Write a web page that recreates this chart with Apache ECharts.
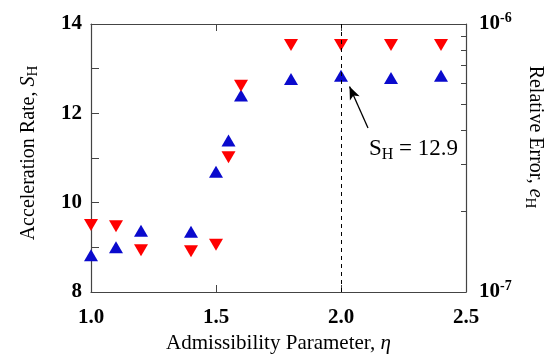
<!DOCTYPE html>
<html>
<head>
<meta charset="utf-8">
<script src="https://cdn.jsdelivr.net/npm/echarts@6/dist/echarts.min.js"></script>
<style>
  html, body { margin: 0; padding: 0; background: #fff; }
  #chart { width: 547px; height: 354px; }
</style>
</head>
<body>
<div id="chart"></div>
<script>
// admissibility parameter eta
var etaValues = [1.0, 1.1, 1.2, 1.4, 1.5, 1.55, 1.6, 1.8, 2.0, 2.2, 2.4];
// acceleration rate S_H (left axis, blue up-triangles)
var accelRate = [8.82, 9.0, 9.37, 9.35, 10.69, 11.39, 12.4, 12.77, 12.84, 12.79, 12.84];
// relative error e_H (right log axis, red down-triangles)
var relError = [1.78e-7, 1.76e-7, 1.43e-7, 1.42e-7, 1.5e-7, 3.18e-7, 5.88e-7, 8.35e-7, 8.35e-7, 8.35e-7, 8.35e-7];
var xTicks = [1.0, 1.5, 2.0, 2.5];
var errMinorTicks = [2e-7, 3e-7, 4e-7, 5e-7, 6e-7, 7e-7, 8e-7, 9e-7];
var highlightEta = 2.0;
var noteText = 'S_H = 12.9';

var serif = 'Liberation Serif';
var axisColor = '#444';

var chart = echarts.init(document.getElementById('chart'));

function pairs(xs, ys) {
  return xs.map(function (x, i) { return [x, ys[i]]; });
}

var labelBold = { fontFamily: serif, fontWeight: 'bold', fontSize: 21, color: '#000' };

var option = {
  backgroundColor: '#fff',
  animation: false,
  grid: { left: 91, right: 81, top: 24, bottom: 62, outerBoundsMode: 'none' },
  xAxis: [
    {
      type: 'value', min: 1.0, max: 2.5, interval: 0.5,
      name: '{n|Admissibility Parameter, }{i|η}',
      nameLocation: 'middle', nameGap: 38,
      nameTextStyle: {
        rich: {
          n: { fontFamily: serif, fontSize: 21, color: '#000' },
          i: { fontFamily: serif, fontSize: 21, fontStyle: 'italic', color: '#000' }
        }
      },
      axisLine: { show: true, onZero: false, lineStyle: { color: axisColor, width: 1.2 } },
      axisTick: { show: true, inside: true, length: 7, lineStyle: { color: axisColor } },
      axisLabel: Object.assign({ margin: 15, formatter: function (v) { return v.toFixed(1); } }, labelBold),
      splitLine: { show: false }
    },
    {
      type: 'value', min: 1.0, max: 2.5, interval: 0.5, position: 'top',
      axisLine: { show: true, onZero: false, lineStyle: { color: axisColor, width: 1.2 } },
      axisTick: { show: true, inside: true, length: 7, lineStyle: { color: axisColor } },
      axisLabel: { show: false },
      splitLine: { show: false }
    }
  ],
  yAxis: [
    {
      type: 'value', min: 8, max: 14, interval: 2, position: 'left',
      name: '{n|Acceleration Rate, }{i|S}{s|H}',
      nameLocation: 'middle', nameGap: 50,
      nameTextStyle: {
        padding: [0, 0, 0, 10],
        rich: {
          n: { fontFamily: serif, fontSize: 20, color: '#000' },
          i: { fontFamily: serif, fontSize: 20, fontStyle: 'italic', color: '#000' },
          s: { fontFamily: serif, fontSize: 15, color: '#000', padding: [10, 0, 0, 0] }
        }
      },
      axisLine: { show: true, onZero: false, lineStyle: { color: axisColor, width: 1.2 } },
      axisTick: { show: true, inside: true, length: 8, lineStyle: { color: axisColor } },
      minorTick: { show: true, splitNumber: 2, length: 8, lineStyle: { color: axisColor } },
      axisLabel: Object.assign({ margin: 9 }, labelBold),
      splitLine: { show: false },
      minorSplitLine: { show: false }
    },
    {
      type: 'log', logBase: 10, min: 1e-7, max: 1e-6, position: 'right',
      name: '{n|Relative Error, }{i|e}{s|H}',
      nameLocation: 'middle', nameGap: 47, nameRotate: -90,
      nameTextStyle: {
        padding: [0, 42, 0, 0],
        rich: {
          n: { fontFamily: serif, fontSize: 20, color: '#000' },
          i: { fontFamily: serif, fontSize: 20, fontStyle: 'italic', color: '#000' },
          s: { fontFamily: serif, fontSize: 15, color: '#000', padding: [10, 0, 0, 0] }
        }
      },
      axisLine: { show: true, onZero: false, lineStyle: { color: axisColor, width: 1.2 } },
      axisTick: { show: true, inside: true, length: 5, customValues: errMinorTicks, lineStyle: { color: axisColor } },
      axisLabel: {
        margin: 13,
        formatter: function (v) {
          return '{b|10}{p|' + Math.round(Math.log10(v)) + '}';
        },
        rich: {
          b: { fontFamily: serif, fontWeight: 'bold', fontSize: 21, color: '#000' },
          p: { fontFamily: serif, fontWeight: 'bold', fontSize: 14, color: '#000', padding: [0, 0, 12, 0] }
        }
      },
      splitLine: { show: false }
    }
  ],
  series: [
    {
      name: 'S_H', type: 'scatter', xAxisIndex: 0, yAxisIndex: 0,
      symbol: 'triangle', symbolSize: [14, 12],
      itemStyle: { color: '#0a0acd', opacity: 1 },
      data: pairs(etaValues, accelRate),
      markLine: {
        silent: true, animation: false,
        symbol: ['none', 'arrow'], symbolSize: 10,
        lineStyle: { color: '#000', width: 1.3, type: 'solid' },
        label: { show: false },
        data: [[
          { coord: [2.108, 11.67], symbol: 'none' },
          { coord: [2.034, 12.6], symbol: 'arrow', symbolSize: [8, 13] }
        ]]
      },
      markPoint: {
        silent: true, animation: false,
        symbol: 'circle', symbolSize: 1,
        itemStyle: { color: 'rgba(0,0,0,0)' },
        label: {
          show: true, position: 'inside',
          formatter: '{n|S}{s|H}{n| = 12.9}',
          rich: {
            n: { fontFamily: serif, fontSize: 23, color: '#000' },
            s: { fontFamily: serif, fontSize: 16, color: '#000', padding: [11, 0, 0, 0] }
          }
        },
        data: [{ coord: [2.29, 11.2], value: noteText }]
      }
    },
    {
      name: 'e_H', type: 'scatter', xAxisIndex: 0, yAxisIndex: 1,
      symbol: 'triangle', symbolSize: [14, 12], symbolRotate: 180,
      itemStyle: { color: '#ff0000', opacity: 1 },
      data: pairs(etaValues, relError),
      markLine: {
        silent: true, animation: false, symbol: 'none',
        lineStyle: { color: '#000', width: 1, type: [4, 4] },
        label: { show: false },
        data: [{ xAxis: highlightEta }]
      }
    }
  ]
};

chart.setOption(option);
</script>
</body>
</html>
